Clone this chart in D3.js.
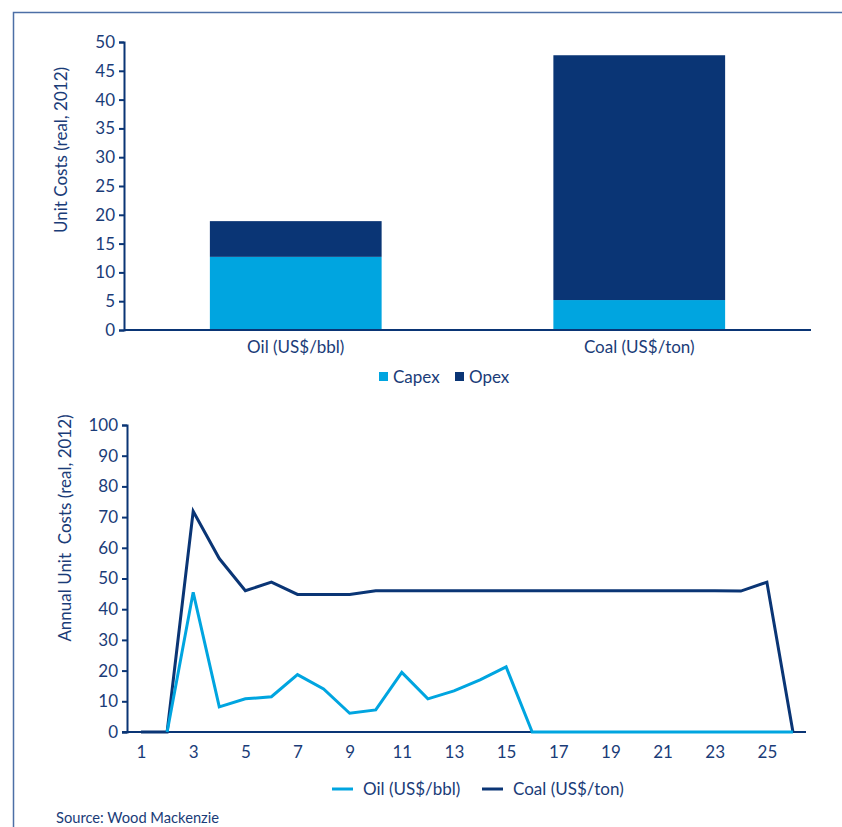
<!DOCTYPE html>
<html><head><meta charset="utf-8">
<script src="https://cdn.jsdelivr.net/npm/d3@7"></script>
<style>body{margin:0;background:#fff}svg{display:block;font-family:Lato,"Open Sans",sans-serif}</style>
</head><body>
<script>
// ---- data ----
const barCategories = ["Oil (US$/bbl)", "Coal (US$/ton)"];
const capex = [12.7, 5.2];
const opex = [6.2, 42.5];
const barSeries = ["Capex", "Opex"];
const barTicks = [0,5,10,15,20,25,30,35,40,45,50];

const years = [1,2,3,4,5,6,7,8,9,10,11,12,13,14,15,16,17,18,19,20,21,22,23,24,25,26];
const oil = [null,0,45.5,8.2,10.8,11.5,18.7,14.0,6.1,7.2,19.4,10.8,13.4,17.0,21.2,0,0,0,0,0,0,0,0,0,0,0];
const coal = [0,0,71.9,56.5,46.0,48.8,44.8,44.8,44.8,46.0,46.0,46.0,46.0,46.0,46.0,46.0,46.0,46.0,46.0,46.0,46.0,46.0,46.0,45.9,48.8,0];
const lineSeries = ["Oil (US$/bbl)", "Coal (US$/ton)"];
const lineXTicks = [1,3,5,7,9,11,13,15,17,19,21,23,25];
const lineYTicks = [0,10,20,30,40,50,60,70,80,90,100];

const LIGHT = "#00a5e0", DARK = "#0a3575", TEXT = "#1a3c78", FRAME = "#4d6fa6";
const FS = "17px";

const svg = d3.select("body").append("svg").attr("width", 842).attr("height", 827);

// frame
svg.append("path").attr("d", "M13.5,827 V12.5 H842").attr("fill","none").attr("stroke",FRAME).attr("stroke-width",1.5);

// ---- bar chart ----
const bx = d3.scaleBand().domain(barCategories).range([124, 811]).paddingInner(0.5).paddingOuter(0.25);
const by = d3.scaleLinear().domain([0,50]).range([330, 42]);

const stackData = barCategories.map((c,i)=>({cat:c, Capex:capex[i], Opex:opex[i]}));
const stacked = d3.stack().keys(barSeries)(stackData);
const barColor = d3.scaleOrdinal().domain(barSeries).range([LIGHT, DARK]);

svg.append("g").selectAll("g").data(stacked).join("g").attr("fill", d=>barColor(d.key))
  .selectAll("rect").data(d=>d).join("rect")
  .attr("x", d=>bx(d.data.cat)).attr("width", bx.bandwidth())
  .attr("y", d=>by(d[1])).attr("height", d=>by(d[0])-by(d[1]));

const byAxis = svg.append("g").attr("transform","translate(124,0)")
  .call(d3.axisLeft(by).tickValues(barTicks).tickSize(5).tickPadding(4));
const bxAxis = svg.append("g").attr("transform","translate(0,330)")
  .call(d3.axisBottom(bx).tickSize(0).tickPadding(11));
[byAxis, bxAxis].forEach(a=>{
  a.selectAll("path,line").attr("stroke", DARK).attr("stroke-width",2);
  a.selectAll("text").attr("fill", TEXT).style("font-size",FS).style("font-family","Lato,'Open Sans',sans-serif");
});
bxAxis.select(".domain").attr("d","M124,0H811");

svg.append("text").attr("transform","translate(67,150) rotate(-90)").attr("text-anchor","middle")
  .attr("fill",TEXT).style("font-size",FS).text("Unit Costs (real, 2012)");

// bar legend
const bl = svg.append("g").attr("transform","translate(379,377)");
barSeries.forEach((s,i)=>{
  const g = bl.append("g").attr("transform",`translate(${i*76},0)`);
  g.append("rect").attr("x",0).attr("y",-5).attr("width",9).attr("height",9).attr("fill",barColor(s));
  g.append("text").attr("x",14).attr("y",6).attr("fill",TEXT).style("font-size",FS).text(s);
});

// ---- line chart ----
const lx = d3.scaleLinear().domain([0.5, 26.5]).range([128, 806]);
const ly = d3.scaleLinear().domain([0,100]).range([732, 425]);

const lyAxis = svg.append("g").attr("transform","translate(127,0)")
  .call(d3.axisLeft(ly).tickValues(lineYTicks).tickSize(5).tickPadding(4));
const lxAxis = svg.append("g").attr("transform","translate(0,732)")
  .call(d3.axisBottom(lx).tickValues(lineXTicks).tickSize(0).tickPadding(14));
[lyAxis, lxAxis].forEach(a=>{
  a.selectAll("path,line").attr("stroke", DARK).attr("stroke-width",2);
  a.selectAll("text").attr("fill", TEXT).style("font-size",FS).style("font-family","Lato,'Open Sans',sans-serif");
});
lxAxis.select(".domain").attr("d","M122,0H806");

const line = d3.line().defined(d=>d[1]!==null).x(d=>lx(d[0])).y(d=>ly(d[1]));
svg.append("path").datum(years.map((y,i)=>[y,coal[i]])).attr("d",line)
  .attr("fill","none").attr("stroke",DARK).attr("stroke-width",3).attr("stroke-linejoin","miter");
svg.append("path").datum(years.map((y,i)=>[y,oil[i]])).attr("d",line)
  .attr("fill","none").attr("stroke",LIGHT).attr("stroke-width",3).attr("stroke-linejoin","miter");

svg.append("text").attr("transform","translate(71,528) rotate(-90)").attr("text-anchor","middle")
  .attr("fill",TEXT).style("font-size",FS).style("white-space","pre").text("Annual Unit  Costs (real, 2012)");

// line legend
const lineColor = d3.scaleOrdinal().domain(lineSeries).range([LIGHT, DARK]);
const ll = svg.append("g").attr("transform","translate(332,789)");
lineSeries.forEach((s,i)=>{
  const g = ll.append("g").attr("transform",`translate(${i*150},0)`);
  g.append("line").attr("x1",0).attr("x2",21).attr("y1",0).attr("y2",0).attr("stroke",lineColor(s)).attr("stroke-width",3);
  g.append("text").attr("x",31).attr("y",6).attr("fill",TEXT).style("font-size",FS).text(s);
});

svg.append("text").attr("x",56).attr("y",823).attr("fill",TEXT).style("font-size","14.7px").text("Source: Wood Mackenzie");
</script>
</body></html>
